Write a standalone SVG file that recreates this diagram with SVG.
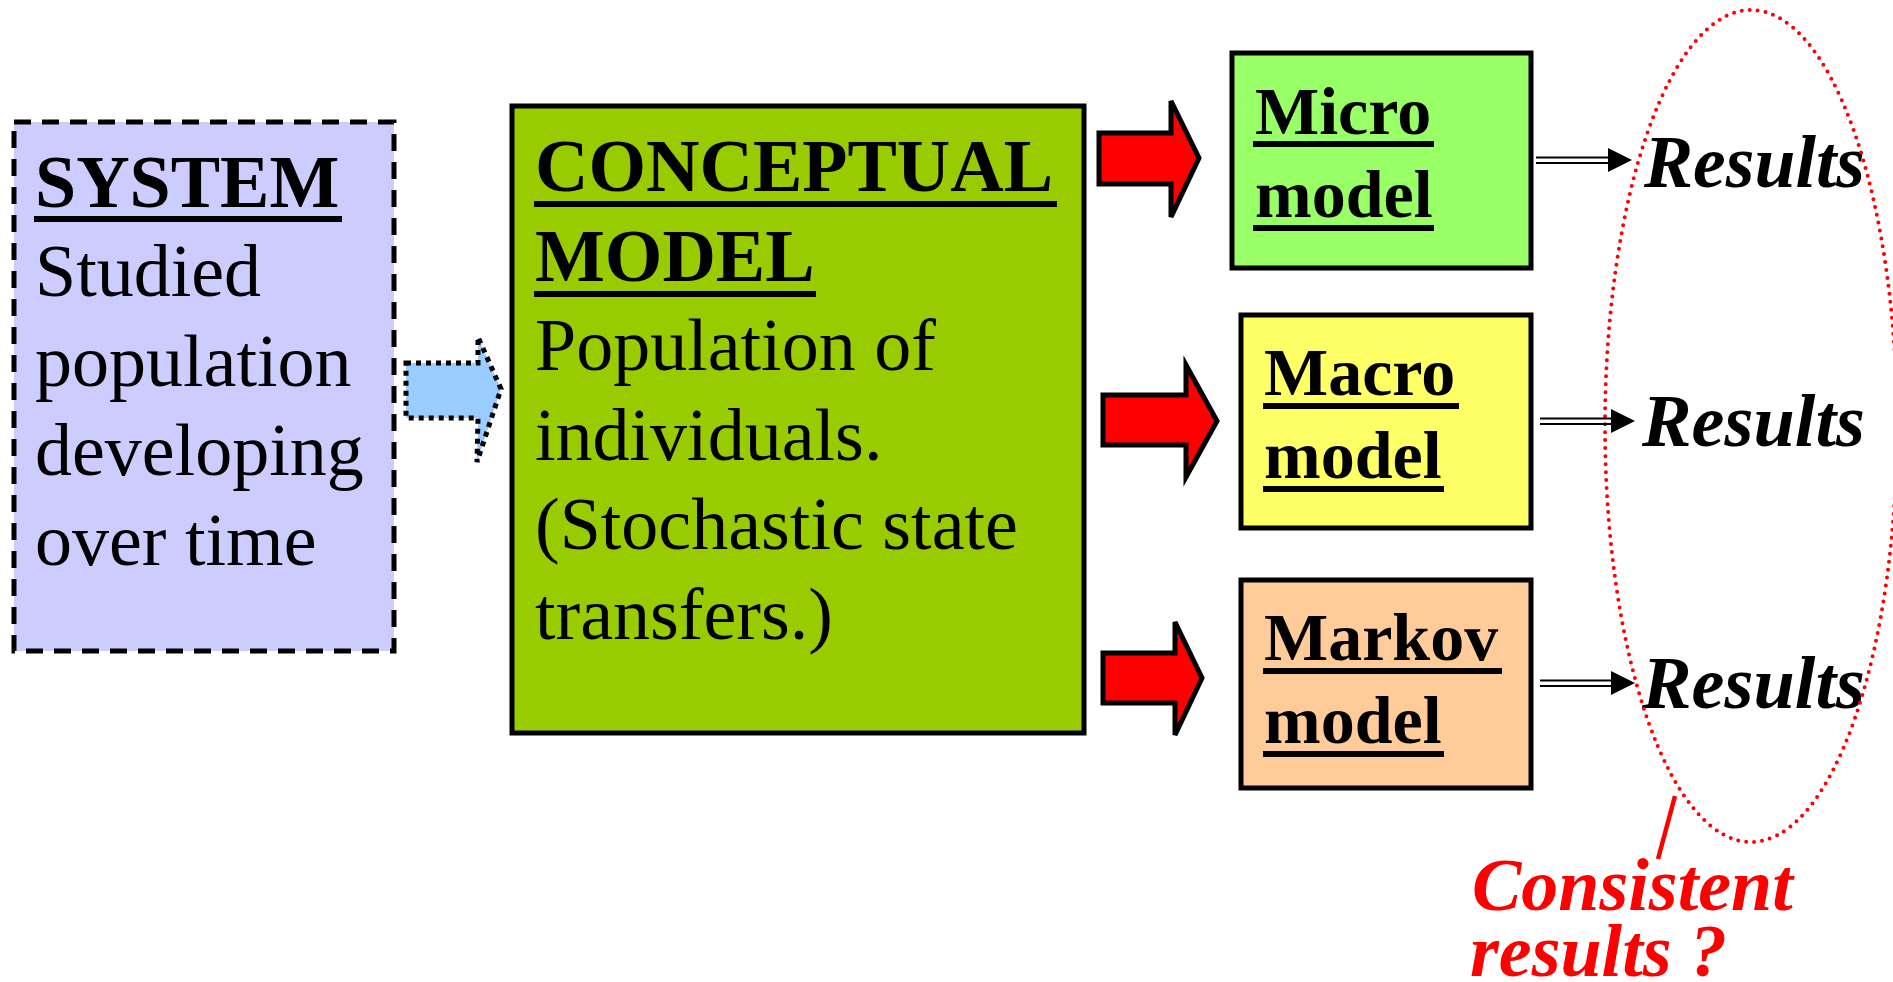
<svg xmlns="http://www.w3.org/2000/svg" width="1893" height="982" viewBox="0 0 1893 982">
  <style>
    .box { stroke: #000; stroke-width: 5; }
    .t { font-family: "Liberation Serif", "Times New Roman", serif; font-size: 74px; fill: #000; }
    .b { font-weight: bold; }
    .m { font-family: "Liberation Serif", "Times New Roman", serif; font-weight: bold; font-size: 68px; fill: #000; }
    .res { font-family: "Liberation Serif", "Times New Roman", serif; font-weight: bold; font-style: italic; font-size: 74px; fill: #000; }
    .ul { stroke: #000; stroke-width: 6; }
    .red-arrow { fill: #FF0000; stroke: #000; stroke-width: 5; stroke-linejoin: miter; }
    .dbl { stroke: #000; stroke-width: 2; }
    .head { fill: #000; }
    .note { font-family: "Liberation Serif", "Times New Roman", serif; font-weight: bold; font-style: italic; font-size: 74px; fill: #FF0000; }
  </style>

  <rect width="1893" height="982" fill="#fff"/>

  <!-- system under study -->
  <g id="system">
    <rect x="14" y="122" width="380" height="529" fill="#CCCCFF" stroke="#000" stroke-width="5" stroke-dasharray="17 11"/>
    <text class="t b" x="35" y="207">SYSTEM</text>
    <line class="ul" x1="34" y1="219" x2="342" y2="219"/>
    <text class="t" x="35" y="296">Studied</text>
    <text class="t" x="35" y="386">population</text>
    <text class="t" x="35" y="475">developing</text>
    <text class="t" x="35" y="565">over time</text>
  </g>

  <!-- conceptual model -->
  <g id="conceptual">
    <rect class="box" x="512" y="106" width="572" height="627" fill="#99CC00"/>
    <text class="t b" x="535" y="191">CONCEPTUAL</text>
    <line class="ul" x1="534" y1="204" x2="1057" y2="204"/>
    <text class="t b" x="535" y="281">MODEL</text>
    <line class="ul" x1="534" y1="294" x2="816" y2="294"/>
    <text class="t" x="535" y="370">Population of</text>
    <text class="t" x="535" y="460">individuals.</text>
    <text class="t" x="535" y="549">(Stochastic state</text>
    <text class="t" x="535" y="639">transfers.)</text>
  </g>

  <!-- concrete models -->
  <g id="micro">
    <rect class="box" x="1232" y="53" width="299" height="215" fill="#99FF66"/>
    <text class="m" x="1255" y="134">Micro</text>
    <line class="ul" x1="1253" y1="144" x2="1434" y2="144"/>
    <text class="m" x="1255" y="217">model</text>
    <line class="ul" x1="1253" y1="228" x2="1434" y2="228"/>
  </g>

  <g id="macro">
    <rect class="box" x="1241" y="315" width="290" height="213" fill="#FFFF66"/>
    <text class="m" x="1264" y="395">Macro</text>
    <line class="ul" x1="1263" y1="406" x2="1459" y2="406"/>
    <text class="m" x="1264" y="478">model</text>
    <line class="ul" x1="1263" y1="489" x2="1444" y2="489"/>
  </g>

  <g id="markov">
    <rect class="box" x="1241" y="580" width="290" height="208" fill="#FFCC99"/>
    <text class="m" x="1264" y="660">Markov</text>
    <line class="ul" x1="1263" y1="671" x2="1502" y2="671"/>
    <text class="m" x="1264" y="743">model</text>
    <line class="ul" x1="1263" y1="754" x2="1444" y2="754"/>
  </g>

  <!-- outcomes -->
  <g id="results-micro">
    <text class="res" x="1644" y="187" textLength="221" lengthAdjust="spacingAndGlyphs">Results</text>
  </g>
  <g id="results-macro">
    <text class="res" x="1642" y="446" textLength="223" lengthAdjust="spacingAndGlyphs">Results</text>
  </g>
  <g id="results-markov">
    <text class="res" x="1642" y="708" textLength="223" lengthAdjust="spacingAndGlyphs">Results</text>
  </g>

  <!-- consistency check -->
  <g id="consistency">
    <ellipse cx="1751" cy="426" rx="146" ry="416" fill="none" stroke="#FF0000" stroke-width="4" stroke-dasharray="0 8" stroke-linecap="round"/>
    <line x1="1675" y1="796" x2="1658" y2="859" stroke="#FF0000" stroke-width="4.5"/>
    <text class="note" x="1472" y="910">Consistent</text>
    <text class="note" x="1470" y="976">results ?</text>
  </g>

  <!-- connectors -->
  <g id="connectors">
    <!-- system to conceptual model -->
    <polygon points="406,363 478,363 478,337 501,389 477,462 478,418 406,418" fill="#99CCFF" stroke="#000" stroke-width="5" stroke-dasharray="5 5"/>

    <!-- conceptual model to each concrete model -->
    <polygon class="red-arrow" points="1099,133 1171,133 1171,101 1199,158 1171,217 1171,184 1099,184"/>
    <polygon class="red-arrow" points="1103,395 1186,395 1186,365 1217,421 1186,477 1186,445 1103,445"/>
    <polygon class="red-arrow" points="1103,653 1175,653 1175,622 1202,678 1175,735 1175,703 1103,703"/>

    <!-- models to results -->
    <line class="dbl" x1="1536" y1="157.5" x2="1610" y2="157.5"/>
    <line class="dbl" x1="1536" y1="163" x2="1610" y2="163"/>
    <polygon class="head" points="1608,148 1632,160 1608,172"/>

    <line class="dbl" x1="1540" y1="418.5" x2="1612" y2="418.5"/>
    <line class="dbl" x1="1540" y1="424" x2="1612" y2="424"/>
    <polygon class="head" points="1611,409 1635,421 1611,433"/>

    <line class="dbl" x1="1540" y1="680.5" x2="1612" y2="680.5"/>
    <line class="dbl" x1="1540" y1="686" x2="1612" y2="686"/>
    <polygon class="head" points="1611,671 1635,683 1611,695"/>
  </g>
</svg>
